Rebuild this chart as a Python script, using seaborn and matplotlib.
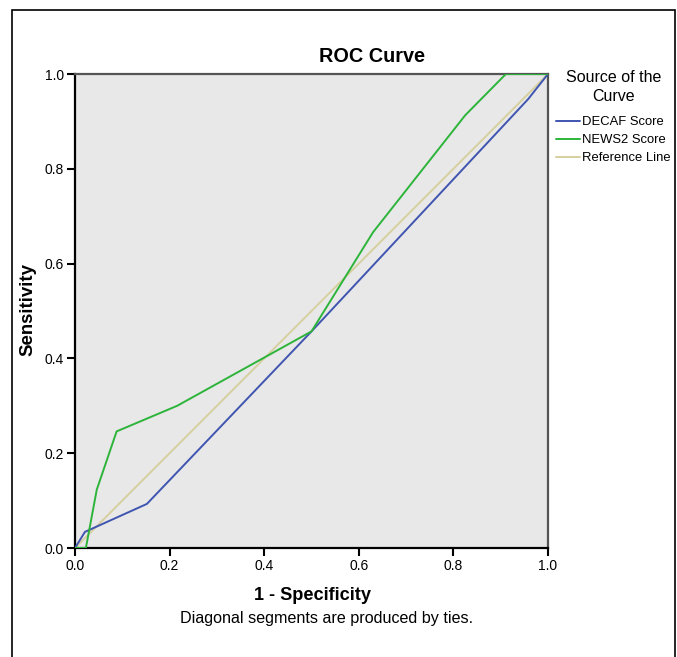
import numpy as np
import pandas as pd
import seaborn as sns
import matplotlib.pyplot as plt
from matplotlib.patches import Rectangle

# ========== data ==========
decaf_x = [0.0, 0.021, 0.152, 0.500, 0.958, 1.0]
decaf_y = [0.0, 0.034, 0.093, 0.457, 0.947, 1.0]

news2_x = [0.0, 0.023, 0.023, 0.046, 0.088, 0.216, 0.500, 0.630, 0.825, 0.911, 1.0]
news2_y = [0.0, 0.0, 0.0, 0.123, 0.246, 0.300, 0.457, 0.666, 0.913, 1.0, 1.0]

ref_x = [0.0, 1.0]
ref_y = [0.0, 1.0]

ticks = [0.0, 0.2, 0.4, 0.6, 0.8, 1.0]
series_names = ['DECAF Score', 'NEWS2 Score', 'Reference Line']
colors = ['#3f55b0', '#2db43a', '#d6cf9f']

df = pd.concat([
    pd.DataFrame({'x': decaf_x, 'y': decaf_y, 'src': series_names[0]}),
    pd.DataFrame({'x': news2_x, 'y': news2_y, 'src': series_names[1]}),
    pd.DataFrame({'x': ref_x, 'y': ref_y, 'src': series_names[2]}),
])

sns.set_style('white', {'text.color': 'black', 'xtick.color': 'black',
                        'ytick.color': 'black', 'axes.labelcolor': 'black'})
plt.rcParams['font.family'] = ['Liberation Sans', 'DejaVu Sans']

W, H = 677, 657
fig = plt.figure(figsize=(W / 100, H / 100), dpi=100)
# axes box in pixels: x 75..548, y 74..548
ax = fig.add_axes([75 / W, 1 - 548 / H, 473 / W, 474 / H])
ax.set_facecolor('#e8e8e8')

# one lineplot per series so the points stay in drawing order
for name, col in zip(series_names, colors):
    sub = df[df['src'] == name]
    sns.lineplot(x=sub['x'].values, y=sub['y'].values, sort=False, color=col,
                 lw=1.4, ax=ax, label=name, zorder=3 if name != 'Reference Line' else 2)

ax.set_xlim(0, 1)
ax.set_ylim(0, 1)
ax.set_xticks(ticks)
ax.set_yticks(ticks)
ax.set_xticklabels([f'{t:.1f}' for t in ticks], fontsize=10)
ax.set_yticklabels([f'{t:.1f}' for t in ticks], fontsize=10)
ax.tick_params(axis='both', direction='out', length=6, width=1.5, color='black',
               labelcolor='black', left=True, bottom=True, pad=2)
for s in ['left', 'bottom']:
    ax.spines[s].set_color('black')
    ax.spines[s].set_linewidth(1.6)
for s in ['top', 'right']:
    ax.spines[s].set_color('#555555')
    ax.spines[s].set_linewidth(1.6)
ax.set_xlabel('')
ax.set_ylabel('')

fig.text(372 / W, 1 - 57 / H, 'ROC Curve', fontsize=14.3, fontweight='bold',
         ha='center', va='center', color='black')
fig.text(28 / W, 1 - 309 / H, 'Sensitivity', fontsize=13.4, fontweight='bold',
         rotation=90, ha='center', va='center', color='black')
fig.text(313 / W, 1 - 595 / H, '1 - Specificity', fontsize=13.1, fontweight='bold',
         ha='center', va='center', color='black')
fig.text(327 / W, 1 - 618 / H, 'Diagonal segments are produced by ties.',
         fontsize=11.6, ha='center', va='center', color='black')

leg = ax.legend(title='Source of the\nCurve', loc='upper left',
                bbox_to_anchor=(556 / W, 1 - 70 / H),
                bbox_transform=fig.transFigure, frameon=False, fontsize=9.4,
                title_fontsize=11.5, handlelength=1.8, handletextpad=0.2,
                labelspacing=0.45, borderaxespad=0, borderpad=0,
                alignment='center')
leg.get_title().set_multialignment('center')
leg.get_title().set_linespacing(1.3)
leg.get_title().set_color('black')
for t in leg.get_texts():
    t.set_color('black')
leg._legend_box.sep = 9

fig.patches.append(Rectangle((12 / W, -0.05), (675 - 12) / W, 1.05 - 10 / H,
                             transform=fig.transFigure, fill=False,
                             edgecolor='black', lw=1.2))

fig.savefig('out.png', dpi=100)
